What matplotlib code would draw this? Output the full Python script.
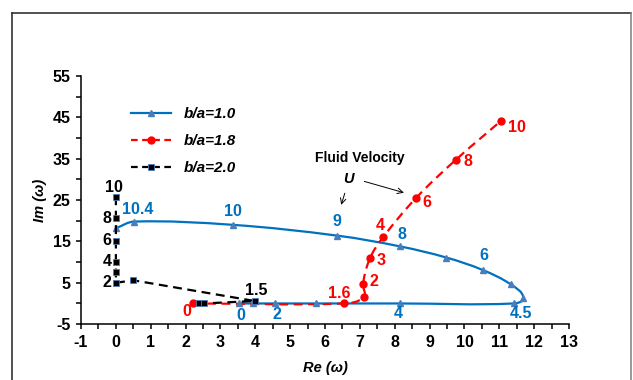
import numpy as np
import matplotlib
matplotlib.use("Agg")
import matplotlib.pyplot as plt
from matplotlib.path import Path
from matplotlib.patches import PathPatch
from matplotlib.lines import Line2D

plt.rcParams['font.family'] = ['Liberation Sans', 'DejaVu Sans']
plt.rcParams['font.weight'] = 'bold'
plt.rcParams['axes.unicode_minus'] = False

# b/a = 1.0  (blue, solid, triangles) - ordered along increasing U
re_10 = [3.53, 3.92, 4.57, 5.74, 8.14, 11.41, 11.69, 11.33, 10.52, 9.48, 8.15, 6.35, 3.37, 0.53, 0.0]
im_10 = [0.0, 0.0, 0.0, 0.0, 0.0, 0.0, 1.4, 4.6, 8.1, 11.1, 13.8, 16.4, 19.0, 19.8, 18.2]
lab_10 = ['0', '', '2', '', '4', '4.5', '', '', '6', '', '8', '9', '10', '10.4', '']

# b/a = 1.8  (red, dashed, circles)
re_18 = [2.20, 6.54, 7.11, 7.09, 7.29, 7.66, 8.61, 9.76, 11.04]
im_18 = [0.0, 0.0, 1.56, 4.8, 10.96, 15.96, 25.5, 34.8, 44.1]
lab_18 = ['0', '1.6', '', '2', '3', '4', '6', '8', '10']

# b/a = 2.0  (black, dashed, squares)
re_20 = [2.37, 2.53, 3.98, 0.5, 0.0, 0.0, 0.0, 0.0, 0.0, 0.0]
im_20 = [0.0, 0.0, 0.6, 5.6, 5.0, 7.6, 10.1, 15.2, 20.6, 25.7]
lab_20 = ['', '', '1.5', '', '2', '', '4', '6', '8', '10']

BLUE = '#0070C0'
BLUE_MK = '#4A7EBB'
RED = '#FF0000'

# label offsets in pixels (dx, dy) for each labelled point
off_10 = {'0': (2, -12), '2': (2, -11), '4': (-1, -10), '4.5': (7, -10), '6': (1, 14),
          '8': (2, 12), '9': (0, 14), '10': (0, 13), '10.4': (3, 12)}
off_18 = {'0': (-6, -8), '1.6': (-5, 10), '2': (11, 2), '3': (11, -2), '4': (-3, 12),
          '6': (11, -4), '8': (12, -2), '10': (16, -6)}
off_20 = {'1.5': (2, 10), '2': (-9, 0), '4': (-9, 0), '6': (-9, 0), '8': (-9, 0), '10': (-2, 10)}


def smooth_path(xs, ys, k=0.36):
    # cubic bezier through the points, tangents computed in pixel space
    sx, sy = 34.9, 4.14
    P = np.column_stack([np.array(xs) * sx, np.array(ys) * sy])
    n = len(P)
    tang = []
    for i in range(n):
        a = P[max(i - 1, 0)]
        b = P[min(i + 1, n - 1)]
        d = b - a
        L = np.hypot(*d)
        tang.append(d / L if L > 0 else d)
    verts = [P[0]]
    codes = [Path.MOVETO]
    for i in range(n - 1):
        L = np.hypot(*(P[i + 1] - P[i]))
        verts += [P[i] + tang[i] * L * k, P[i + 1] - tang[i + 1] * L * k, P[i + 1]]
        codes += [Path.CURVE4] * 3
    verts = np.array(verts) / np.array([sx, sy])
    return Path(verts, codes)


fig = plt.figure(figsize=(6.33, 3.80), dpi=100)
ax = fig.add_axes([0.128, 0.147, 0.771, 0.653])

# blue curve
ax.add_patch(PathPatch(smooth_path(re_10, im_10), fill=False, edgecolor=BLUE, lw=1.6, zorder=3))
ax.plot(re_10, im_10, ls='none', marker='^', ms=5, mfc=BLUE_MK, mec=BLUE_MK, zorder=4)

# red curve
ax.add_patch(PathPatch(smooth_path(re_18, im_18), fill=False, edgecolor=RED, lw=1.6,
                       linestyle=(0, (4, 2.5)), zorder=3))
ax.plot(re_18, im_18, ls='none', marker='o', ms=5, mfc=RED, mec=RED, zorder=4)

# black curve
ax.plot(re_20, im_20, color='black', lw=1.6, ls=(0, (4, 2.5)), marker='s', ms=4.5,
        mfc='black', mec=BLUE_MK, mew=0.6, zorder=4)

for xs, ys, labs, offs, col in [(re_10, im_10, lab_10, off_10, BLUE),
                                (re_18, im_18, lab_18, off_18, RED),
                                (re_20, im_20, lab_20, off_20, 'black')]:
    for x, y, t in zip(xs, ys, labs):
        if t:
            ax.annotate(t, (x, y), xytext=offs[t], textcoords='offset pixels', ha='center',
                        va='center', fontsize=11.5, fontweight='bold', color=col, zorder=5)

# fluid velocity annotation
ax.text(6.99, 35.1, 'Fluid Velocity', ha='center', va='center', fontsize=10, fontweight='bold',
        family=['Liberation Sans Narrow', 'Liberation Sans'])
ax.text(6.67, 30.0, 'U', ha='center', va='center', fontsize=10.5, fontweight='bold', style='italic')
ax.annotate('', xy=(8.34, 26.6), xytext=(7.05, 29.7),
            arrowprops=dict(arrowstyle='->', color='black', lw=0.7))
ax.annotate('', xy=(6.44, 23.2), xytext=(6.59, 27.3),
            arrowprops=dict(arrowstyle='->', color='black', lw=0.7))

ax.set_xlim(-1, 13)
ax.set_ylim(-5, 55)
ax.set_xticks(np.arange(-1, 14, 1))
ax.set_xticks(np.arange(-1, 13.1, 0.5), minor=True)
ax.set_yticks(np.arange(-5, 56, 10))
ax.set_yticks(np.arange(-5, 56, 5), minor=True)
ax.tick_params(which='both', direction='out', length=3.5, width=1.1, colors='black')
ax.tick_params(which='major', labelsize=11.5, pad=4)
for s in ['top', 'right']:
    ax.spines[s].set_visible(False)
for s in ['left', 'bottom']:
    ax.spines[s].set_linewidth(1.1)

ax.set_xlabel('Re (ω)', fontsize=10.5, fontweight='bold', style='italic', labelpad=8)
ax.set_ylabel('Im (ω)', fontsize=10.5, fontweight='bold', style='italic', labelpad=4)

handles = [Line2D([], [], color=BLUE, lw=1.6, marker='^', ms=5, mfc=BLUE_MK, mec=BLUE_MK),
           Line2D([], [], color=RED, lw=1.6, ls=(0, (3, 2)), marker='o', ms=5, mfc=RED, mec=RED),
           Line2D([], [], color='black', lw=1.6, ls=(0, (3, 2)), marker='s', ms=4.5,
                  mfc='black', mec=BLUE_MK, mew=0.6)]
ax.legend(handles, ['b/a=1.0', 'b/a=1.8', 'b/a=2.0'], loc='upper left',
          bbox_to_anchor=(0.075, 0.93), frameon=False, handlelength=2.6, labelspacing=0.85,
          prop=dict(size=11, weight='bold', style='italic'))

# outer frame
fig.add_artist(Line2D([12 / 633, 12 / 633], [0, 1 - 13 / 380], transform=fig.transFigure,
                      color='#333333', lw=1.2))
fig.add_artist(Line2D([12 / 633, 631 / 633], [1 - 13 / 380, 1 - 13 / 380], transform=fig.transFigure,
                      color='#333333', lw=1.2))
fig.add_artist(Line2D([631 / 633, 631 / 633], [0, 1 - 13 / 380], transform=fig.transFigure,
                      color='#888888', lw=1.2))

fig.savefig('out.png', dpi=100)
